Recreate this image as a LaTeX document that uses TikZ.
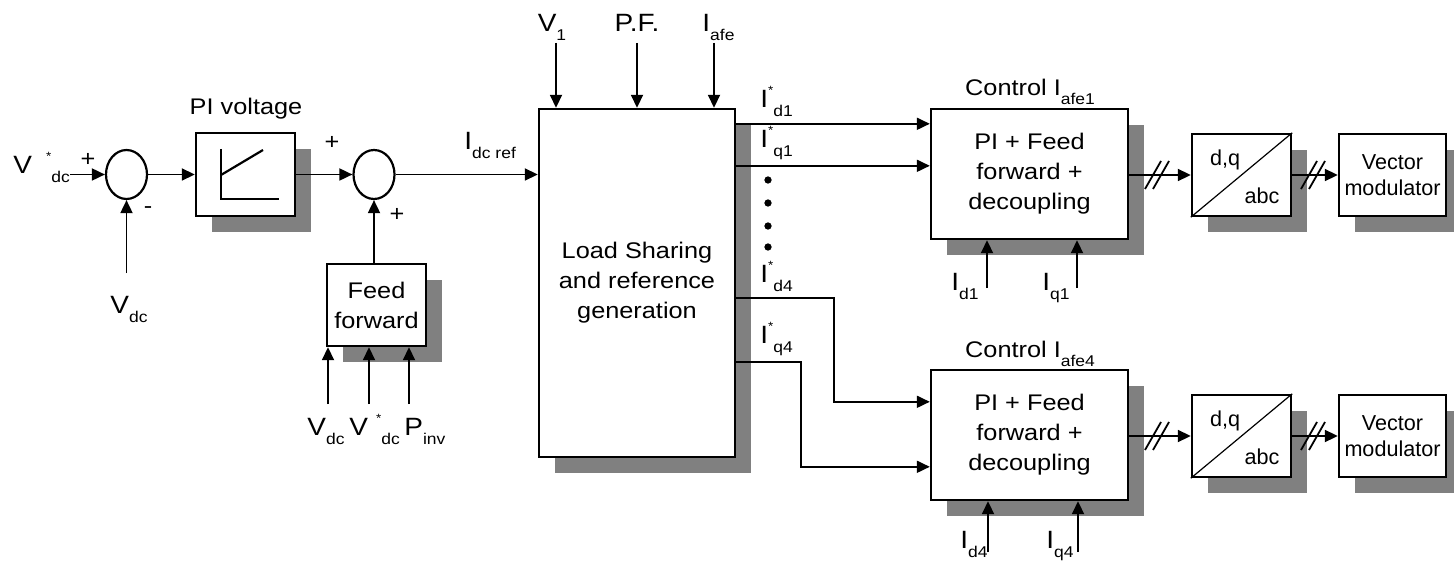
\documentclass[tikz,border=0pt]{standalone}
\usepackage{fontspec}
\setmainfont{Liberation Sans}[FakeStretch=1.12]
\newfontfamily\narrowsans{Liberation Sans}
\usetikzlibrary{positioning}
\usetikzlibrary{shapes,shadows,arrows.meta}

\definecolor{shgray}{RGB}{128,128,128}
\newcommand{\lsub}[1]{\raisebox{-4.5pt}{\fontsize{7.8}{8}\selectfont #1}}
\newcommand{\lsup}[1]{\raisebox{6.5pt}{\fontsize{6}{7}\selectfont #1}}

\begin{document}
\begin{tikzpicture}[x=0.5pt, y=-0.5pt,
  font=\fontsize{11.3}{15}\selectfont,
  blk/.style={draw, line width=1.2pt, fill=white, align=center, inner sep=0pt,
    drop shadow={shadow xshift=8pt, shadow yshift=-8pt, fill=shgray, opacity=1}},
  sumnode/.style={draw, ellipse, line width=1.1pt, minimum width=20.5pt, minimum height=24.5pt, inner sep=0pt},
  sig/.style={line width=0.9pt, -{Triangle[length=6.5pt,width=6pt]}},
  lbl/.style={inner sep=0pt, font=\fontsize{12.5}{14}\selectfont},
  busmark/.pic={\draw[line width=0.9pt] (-12,14) -- (4,-14); \draw[line width=0.9pt] (-4,14) -- (12,-14);}
]
\useasboundingbox (0,0) rectangle (1454,561);

%boxes
\node[sumnode] (sum1) at (126.5,174.5) {};
\node[blk, minimum width=49.5pt, minimum height=41.5pt] (pi) at (245.5,174.5) {};
\node[sumnode] (sum2) at (374,174.5) {};
\node[blk, minimum width=49.5pt, minimum height=41pt] (ff) at (376.5,305) {Feed\\forward};
\node[blk, minimum width=98pt, minimum height=174pt] (ls) at (637,283) {Load Sharing\\and reference\\generation};
\node[blk, minimum width=98.5pt, minimum height=65pt] (ctrl1) at (1029.5,174) {PI + Feed\\forward +\\decoupling};
\node[blk, minimum width=98.5pt, minimum height=65pt] (ctrl2) at (1029.5,435) {PI + Feed\\forward +\\decoupling};
\node[blk, minimum width=49.5pt, minimum height=41pt] (dq1) at (1241.5,175) {};
\node[blk, minimum width=49.5pt, minimum height=41pt] (dq2) at (1241.5,436) {};
\node[blk, minimum width=53.5pt, minimum height=41pt, font=\narrowsans\fontsize{10.8}{13}\selectfont] (vm1) at (1392.5,175) {Vector\\modulator};
\node[blk, minimum width=53.5pt, minimum height=41pt, font=\narrowsans\fontsize{10.8}{13}\selectfont] (vm2) at (1392.5,436) {Vector\\modulator};

%inside PI
\draw[line width=1.1pt] (221,149) -- (221,199) -- (279,199);
\draw[line width=1.1pt] (221,175) -- (263,150);
%inside d,q
\draw[line width=0.6pt] (dq1.south west) -- (dq1.north east);
\draw[line width=0.6pt] (dq2.south west) -- (dq2.north east);
\node[font=\narrowsans\fontsize{10.8}{13}\selectfont] (dqa) at (1225,160) {d,q};
\node[font=\narrowsans\fontsize{10.8}{13}\selectfont] (abca) at (1262,196) {abc};
\node[font=\narrowsans\fontsize{10.8}{13}\selectfont] (dqb) at (1225,421) {d,q};
\node[font=\narrowsans\fontsize{10.8}{13}\selectfont] (abcb) at (1262,457) {abc};

%titles
\node (pilabel) at (246,109) {PI voltage};
\node[anchor=base] (c1label) at (1030,96) {Control I\lsub{afe1}};
\node[anchor=base] (c4label) at (1030,357) {Control I\lsub{afe4}};

%signs
\node (p1) at (88,160) {+};
\node (m1) at (148,210) {-};
\node (p2) at (332,143) {+};
\node (p3) at (397,215) {+};

%input labels
\node[lbl, anchor=base west] (vdcref) at (13,174) {V\hspace{7pt}\lsup{*}\lsub{dc}};
\node[lbl, anchor=base west] (vdc1) at (110,313) {V\lsub{dc}};
\node[lbl, anchor=base west] (vdc2) at (307,435) {V\lsub{dc}};
\node[lbl, anchor=base west] (vdcref2) at (349,435) {V\hspace{4pt}\lsup{*}\lsub{dc}};
\node[lbl, anchor=base west] (pinv) at (404,435) {P\lsub{inv}};
\node[lbl, anchor=base west] (idcref) at (464,150) {I\lsub{dc ref}};
\node[lbl, anchor=base] (v1) at (552,32) {V\lsub{1}};
\node[lbl, anchor=base] (pf) at (637,32) {P.F.};
\node[lbl, anchor=base west] (iafe) at (702,32) {I\lsub{afe}};
\node[lbl, anchor=base west] (id1ref) at (760,108) {I\lsup{*}\lsub{d1}};
\node[lbl, anchor=base west] (iq1ref) at (760,148) {I\lsup{*}\lsub{q1}};
\node[lbl, anchor=base west] (id4ref) at (760,282) {I\lsup{*}\lsub{d4}};
\node[lbl, anchor=base west] (iq4ref) at (760,343) {I\lsup{*}\lsub{q4}};
\node[lbl, anchor=base west] (id1) at (951,290) {I\lsub{d1}};
\node[lbl, anchor=base west] (iq1) at (1042,290) {I\lsub{q1}};
\node[lbl, anchor=base west] (id4) at (960,548) {I\lsub{d4}};
\node[lbl, anchor=base west] (iq4) at (1046,548) {I\lsub{q4}};

%free ends
\coordinate (vdcin) at (126.5,273);
\coordinate (ffin1) at (328,404);
\coordinate (ffin2) at (369,404);
\coordinate (ffin3) at (409,404);
\coordinate (v1in) at (556,43);
\coordinate (pfin) at (637,43);
\coordinate (iafein) at (714,43);
\coordinate (id1in) at (987,288);
\coordinate (iq1in) at (1077,288);
\coordinate (id4in) at (988,552);
\coordinate (iq4in) at (1078,552);

%dc loop
\draw[sig] (vdcref.east |- sum1.west) -- (sum1.west);
\draw[sig] (vdcin) -- (sum1.south);
\draw[sig] (sum1.east) -- (pi.west);
\draw[sig] (pi.east) -- (sum2.west);
\draw[sig] (ff.north -| sum2) -- (sum2.south);
\draw[sig] (ffin1) -- (ffin1 |- ff.south);
\draw[sig] (ffin2) -- (ffin2 |- ff.south);
\draw[sig] (ffin3) -- (ffin3 |- ff.south);
\draw[sig] (sum2.east) -- (sum2.east -| ls.west);

%load sharing
\draw[sig] (v1in) -- (v1in |- ls.north);
\draw[sig] (pfin) -- (pfin |- ls.north);
\draw[sig] (iafein) -- (iafein |- ls.north);
\draw[sig] ([yshift=-8pt]ls.north east) -- ([yshift=-8pt]ctrl1.north west);
\draw[sig] ([yshift=-29pt]ls.north east) -- ([yshift=-29pt]ctrl1.north west);
\draw[sig] ([yshift=-95pt]ls.north east) -- ++(98,0) |- ([yshift=-16.5pt]ctrl2.north west);
\draw[sig] ([yshift=-127pt]ls.north east) -- ++(65,0) |- ([yshift=-49pt]ctrl2.north west);
\filldraw[black] (768,180) circle (1.6pt);
\filldraw[black] (768,203) circle (1.6pt);
\filldraw[black] (768,226) circle (1.6pt);
\filldraw[black] (768,247) circle (1.6pt);

%current control
\draw[sig] (id1in) -- (id1in |- ctrl1.south);
\draw[sig] (iq1in) -- (iq1in |- ctrl1.south);
\draw[sig] (id4in) -- (id4in |- ctrl2.south);
\draw[sig] (iq4in) -- (iq4in |- ctrl2.south);
\draw[sig] (ctrl1.east |- dq1.west) -- (dq1.west);
\draw[sig] (ctrl2.east |- dq2.west) -- (dq2.west);
\draw[sig] (dq1.east) -- (vm1.west);
\draw[sig] (dq2.east) -- (vm2.west);
\pic at (1157,175) {busmark};
\pic at (1313,175) {busmark};
\pic at (1157,436) {busmark};
\pic at (1313,436) {busmark};

\end{tikzpicture}
\end{document}
